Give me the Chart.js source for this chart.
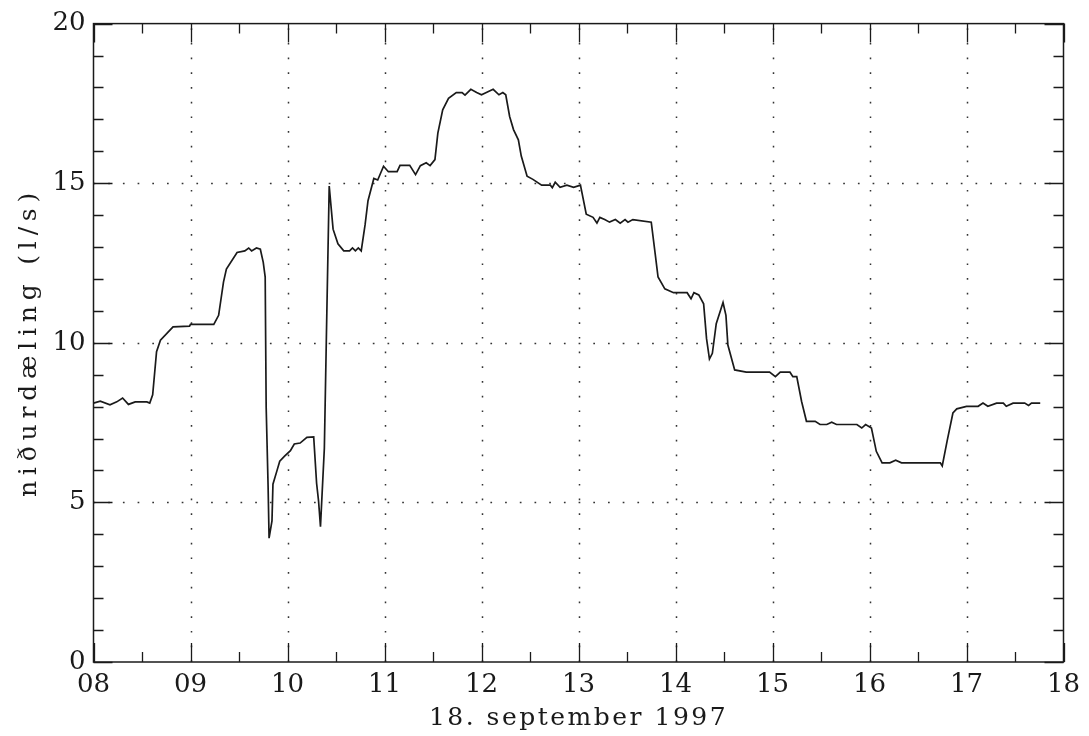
<!DOCTYPE html>
<html lang="is">
<head>
  <meta charset="UTF-8">
  <title>niðurdæling 18. september 1997</title>
  <script src="https://cdn.jsdelivr.net/npm/chart.js"></script>
  <style>
    body { margin: 0; background: white; }
    #wrap { width: 1089px; height: 736px; }
  </style>
</head>
<body>
  <div id="wrap"><canvas id="flowChart" width="1089" height="736"></canvas></div>
  <script>
    // time of day (hours) and flow (l/s)
    const times = [
      8.00, 8.07, 8.17, 8.24, 8.30, 8.36, 8.43, 8.55, 8.58, 8.61, 8.65, 8.69, 8.82, 8.99, 9.00,
      9.24, 9.29, 9.34, 9.37, 9.48, 9.56, 9.60, 9.63, 9.68, 9.72, 9.75, 9.77, 9.78, 9.80, 9.81,
      9.84, 9.85, 9.89, 9.92, 9.97, 10.03, 10.07, 10.13, 10.20, 10.27, 10.30, 10.32, 10.34, 10.38,
      10.40, 10.43, 10.47, 10.52, 10.58, 10.64, 10.67, 10.70, 10.73, 10.76, 10.80, 10.83, 10.89,
      10.93, 10.99, 11.04, 11.13, 11.16, 11.26, 11.32, 11.37, 11.43, 11.47, 11.52, 11.55, 11.60,
      11.66, 11.74, 11.80, 11.83, 11.89, 11.95, 12.00, 12.05, 12.12, 12.18, 12.22, 12.25, 12.29,
      12.33, 12.38, 12.41, 12.47, 12.53, 12.62, 12.71, 12.73, 12.76, 12.81, 12.88, 12.95, 13.02,
      13.08, 13.15, 13.19, 13.22, 13.27, 13.32, 13.38, 13.43, 13.48, 13.51, 13.56, 13.75, 13.79,
      13.82, 13.89, 13.98, 14.12, 14.16, 14.19, 14.24, 14.29, 14.32, 14.35, 14.38, 14.42, 14.49,
      14.52, 14.54, 14.61, 14.73, 14.97, 15.03, 15.08, 15.18, 15.21, 15.25, 15.30, 15.35, 15.44,
      15.49, 15.56, 15.61, 15.66, 15.87, 15.92, 15.96, 16.02, 16.07, 16.13, 16.21, 16.27, 16.33,
      16.73, 16.75, 16.80, 16.86, 16.90, 17.00, 17.12, 17.17, 17.22, 17.31, 17.38, 17.41, 17.48,
      17.60, 17.64, 17.67, 17.76
    ];
    const flow = [
      8.11, 8.17, 8.06, 8.15, 8.27, 8.07, 8.15, 8.15, 8.11, 8.37, 9.72, 10.08, 10.50, 10.52, 10.58,
      10.58, 10.86, 11.90, 12.31, 12.83, 12.88, 12.97, 12.88, 12.97, 12.93, 12.52, 12.06, 8.00, 5.50, 3.88,
      4.42, 5.57, 5.98, 6.29, 6.45, 6.62, 6.83, 6.86, 7.04, 7.05, 5.60, 5.05, 4.24, 6.70,
      10.03, 14.91, 13.56, 13.10, 12.88, 12.88, 12.97, 12.88, 12.97, 12.88, 13.70, 14.45, 15.15,
      15.10, 15.53, 15.36, 15.36, 15.56, 15.56, 15.27, 15.55, 15.64, 15.55, 15.74, 16.57, 17.30,
      17.66, 17.84, 17.84, 17.76, 17.94, 17.84, 17.77, 17.84, 17.94, 17.77, 17.84, 17.77, 17.09,
      16.68, 16.36, 15.85, 15.22, 15.12, 14.94, 14.94, 14.86, 15.03, 14.87, 14.94, 14.87, 14.94,
      14.03, 13.93, 13.75, 13.93, 13.86, 13.78, 13.86, 13.75, 13.86, 13.78, 13.86, 13.78, 12.80,
      12.06, 11.69, 11.57, 11.57, 11.38, 11.57, 11.50, 11.22, 10.13, 9.49, 9.67, 10.60, 11.26,
      10.86, 9.93, 9.15, 9.08, 9.08, 8.94, 9.08, 9.08, 8.94, 8.94, 8.16, 7.54, 7.54,
      7.44, 7.44, 7.51, 7.44, 7.44, 7.33, 7.44, 7.33, 6.60, 6.24, 6.24, 6.32, 6.24,
      6.24, 6.14, 6.92, 7.80, 7.93, 8.01, 8.01, 8.11, 8.01, 8.11, 8.11, 8.01, 8.11,
      8.11, 8.04, 8.11, 8.11
    ];
    const xTickLabels = ['08', '09', '10', '11', '12', '13', '14', '15', '16', '17', '18'];
    const yTickLabels = ['0', '5', '10', '15', '20'];
    const xTitle = '18. september 1997';
    const yTitle = 'niðurdæling (l/s)';

    const ink = '#1a1a1a';
    const tickFont = { family: 'DejaVu Serif', size: 26 };
    const titleFont = { family: 'DejaVu Serif', size: 25 };

    // frame, inward ticks, dotted grid and axis titles
    const framePlugin = {
      id: 'frame',
      beforeDatasetsDraw(chart) {
        const { ctx, chartArea: a, scales: { x, y } } = chart;
        ctx.save();
        ctx.strokeStyle = '#333';
        ctx.lineWidth = 1.5;
        ctx.setLineDash([1.7, 13]);
        for (let h = 9; h <= 17; h++) {
          const px = Math.round(x.getPixelForValue(h)) + 0.5;
          ctx.beginPath(); ctx.moveTo(px, a.bottom); ctx.lineTo(px, a.top); ctx.stroke();
        }
        for (let v = 5; v <= 15; v += 5) {
          const py = Math.round(y.getPixelForValue(v)) + 0.5;
          ctx.beginPath(); ctx.moveTo(a.left, py); ctx.lineTo(a.right, py); ctx.stroke();
        }
        ctx.restore();
      },
      afterDatasetsDraw(chart) {
        const { ctx, chartArea: a, scales: { x, y } } = chart;
        ctx.save();
        ctx.strokeStyle = ink;
        ctx.lineWidth = 1.5;
        ctx.strokeRect(a.left, a.top, a.right - a.left, a.bottom - a.top);
        ctx.lineWidth = 1.3;
        ctx.beginPath();
        for (let v = 0; v <= 20; v++) {
          const len = v % 5 === 0 ? 19 : 10;
          const py = Math.round(y.getPixelForValue(v)) + 0.5;
          ctx.moveTo(a.left, py); ctx.lineTo(a.left + len, py);
          ctx.moveTo(a.right, py); ctx.lineTo(a.right - len, py);
        }
        for (let i = 0; i <= 20; i++) {
          const h = 8 + i / 2;
          const len = i % 2 === 0 ? 19 : 10;
          const px = Math.round(x.getPixelForValue(h)) + 0.5;
          ctx.moveTo(px, a.bottom); ctx.lineTo(px, a.bottom - len);
          ctx.moveTo(px, a.top); ctx.lineTo(px, a.top + len);
        }
        ctx.stroke();

        ctx.fillStyle = ink;
        ctx.letterSpacing = '2.5px';
        ctx.font = Chart.helpers.toFont(titleFont).string;
        ctx.textAlign = 'center';
        ctx.textBaseline = 'alphabetic';
        ctx.fillText(xTitle, (a.left + a.right) / 2, 725);
        ctx.translate(36, 345);
        ctx.rotate(-Math.PI / 2);
        ctx.letterSpacing = '5.8px';
        ctx.font = Chart.helpers.toFont(titleFont).string;
        ctx.fillText(yTitle, 3, 0);
        ctx.restore();
      }
    };

    const chart = new Chart(document.getElementById('flowChart'), {
      type: 'line',
      data: {
        datasets: [{
          data: times.map((t, i) => ({ x: t, y: flow[i] })),
          borderColor: ink,
          borderWidth: 1.7,
          pointRadius: 0,
          tension: 0,
          fill: false
        }]
      },
      options: {
        responsive: false,
        devicePixelRatio: 1,
        animation: false,
        layout: { padding: { top: 20, right: 25.5, left: 0, bottom: 0 } },
        plugins: { legend: { display: false }, tooltip: { enabled: false } },
        scales: {
          x: {
            type: 'linear',
            min: 8, max: 18,
            grid: { display: false, drawTicks: false },
            border: { display: false },
            ticks: {
              stepSize: 1,
              padding: 8,
              maxRotation: 0,
              color: ink,
              font: tickFont,
              callback: (v) => xTickLabels[Math.round(v - 8)]
            },
            afterFit: (s) => { s.height = 74; }
          },
          y: {
            min: 0, max: 20,
            grid: { display: false, drawTicks: false },
            border: { display: false },
            ticks: {
              stepSize: 5,
              padding: 8,
              color: ink,
              font: tickFont,
              callback: (v) => yTickLabels[Math.round(v / 5)]
            },
            afterFit: (s) => { s.width = 93.5; }
          }
        }
      },
      plugins: [framePlugin]
    });
  </script>
</body>
</html>
